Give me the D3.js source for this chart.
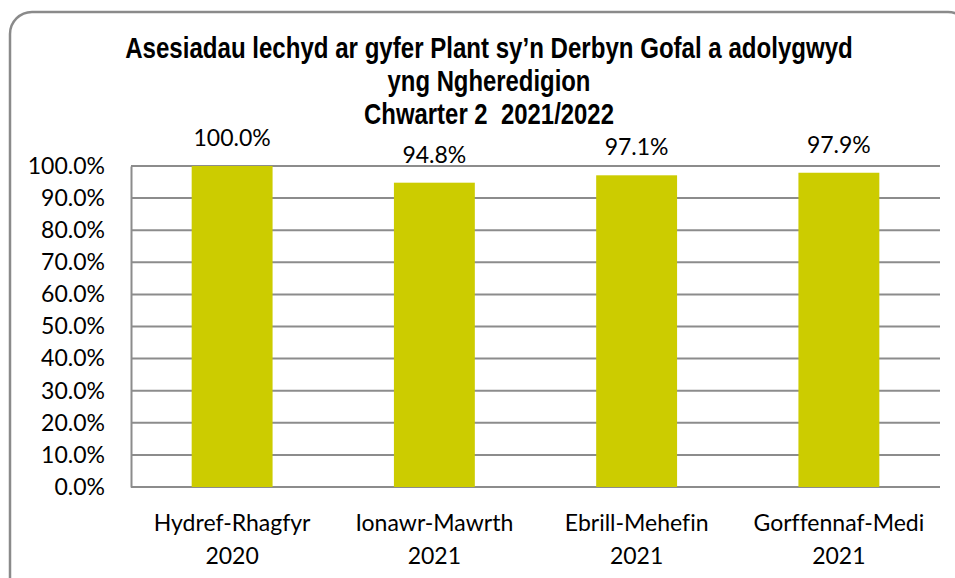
<!DOCTYPE html>
<html>
<head>
<meta charset="utf-8">
<script src="https://cdn.jsdelivr.net/npm/d3@7"></script>
<style>
  body { margin: 0; background: #fff; }
  svg { display: block; }
</style>
</head>
<body>
<div id="chart"></div>
<script>
var titleLines = ["Asesiadau lechyd ar gyfer Plant sy\u2019n Derbyn Gofal a adolygwyd", "yng Ngheredigion", "Chwarter 2  2021/2022"];
var categories = [["Hydref-Rhagfyr", "2020"], ["Ionawr-Mawrth", "2021"], ["Ebrill-Mehefin", "2021"], ["Gorffennaf-Medi", "2021"]];
var values = [100.0, 94.8, 97.1, 97.9];
var yTicks = [0, 10, 20, 30, 40, 50, 60, 70, 80, 90, 100];

var w = 955, h = 578;
var margin = { left: 131, right: 15, top: 166, bottom: 91 };
var labelFont = "Lato, 'Open Sans', sans-serif";

var svg = d3.select("#chart").append("svg")
    .attr("width", w)
    .attr("height", h);

// outer frame, runs off the right and bottom edge
svg.append("rect")
    .attr("x", 10)
    .attr("y", 12)
    .attr("width", 960)
    .attr("height", 590)
    .attr("rx", 22)
    .attr("ry", 22)
    .style("fill", "#fff")
    .style("stroke", "#8a8a8a")
    .style("stroke-width", 2.5);

var x = d3.scaleBand()
    .domain(d3.range(categories.length))
    .range([margin.left, w - margin.right])
    .paddingInner(0.6)
    .paddingOuter(0.3);

var y = d3.scaleLinear()
    .domain([0, 100])
    .range([h - margin.bottom, margin.top]);

// gridlines
svg.append("g")
    .selectAll("line")
    .data(yTicks)
    .join("line")
    .attr("x1", margin.left)
    .attr("x2", w - margin.right)
    .attr("y1", d => y(d))
    .attr("y2", d => y(d))
    .style("stroke", "#8c8c8c")
    .style("stroke-width", 2);

// y axis labels
var yAxis = svg.append("g")
    .attr("transform", "translate(" + margin.left + ",0)")
    .call(d3.axisLeft(y).tickValues(yTicks).tickSize(0).tickPadding(26)
        .tickFormat(d => d.toFixed(1) + "%"));
yAxis.select(".domain")
    .style("stroke", "#8c8c8c")
    .style("stroke-width", 2);
yAxis.selectAll("text")
    .style("font-family", labelFont)
    .style("font-size", "23px")
    .style("fill", "#000");

// bars
svg.append("g")
    .selectAll("rect")
    .data(values)
    .join("rect")
    .attr("x", (d, i) => x(i))
    .attr("width", x.bandwidth())
    .attr("y", d => y(d))
    .attr("height", d => y(0) - y(d))
    .style("fill", "#cccc00");

// value labels
svg.append("g")
    .selectAll("text")
    .data(values)
    .join("text")
    .attr("x", (d, i) => x(i) + x.bandwidth() / 2)
    .attr("y", d => y(d) - 20)
    .attr("text-anchor", "middle")
    .style("font-family", labelFont)
    .style("font-size", "23px")
    .text(d => d.toFixed(1) + "%");

// category labels (two lines)
var xl = svg.append("g")
    .selectAll("text")
    .data(categories)
    .join("text")
    .attr("text-anchor", "middle")
    .style("font-family", labelFont)
    .style("font-size", "23px")
    .style("font-variant-ligatures", "none");
xl.each(function (d, i) {
    d3.select(this).selectAll("tspan")
        .data(d)
        .join("tspan")
        .attr("x", x(i) + x.bandwidth() / 2)
        .attr("y", (t, j) => 531 + j * 33)
        .text(t => t);
});

// title: narrow bold face in the original, so squeeze each line horizontally
var titleWidths = [728, 203, 250];
var titleX = 489;
svg.append("g")
    .selectAll("text")
    .data(titleLines)
    .join("text")
    .attr("x", 0)
    .attr("y", 0)
    .attr("text-anchor", "middle")
    .style("white-space", "pre")
    .style("font-family", "'Liberation Sans', Arial, sans-serif")
    .style("font-weight", "bold")
    .style("font-size", "29px")
    .text(d => d)
    .attr("transform", function (d, i) {
        var k = titleWidths[i] / this.getComputedTextLength();
        return "translate(" + titleX + "," + (58 + i * 33) + ") scale(" + k + ",1)";
    });
</script>
</body>
</html>
